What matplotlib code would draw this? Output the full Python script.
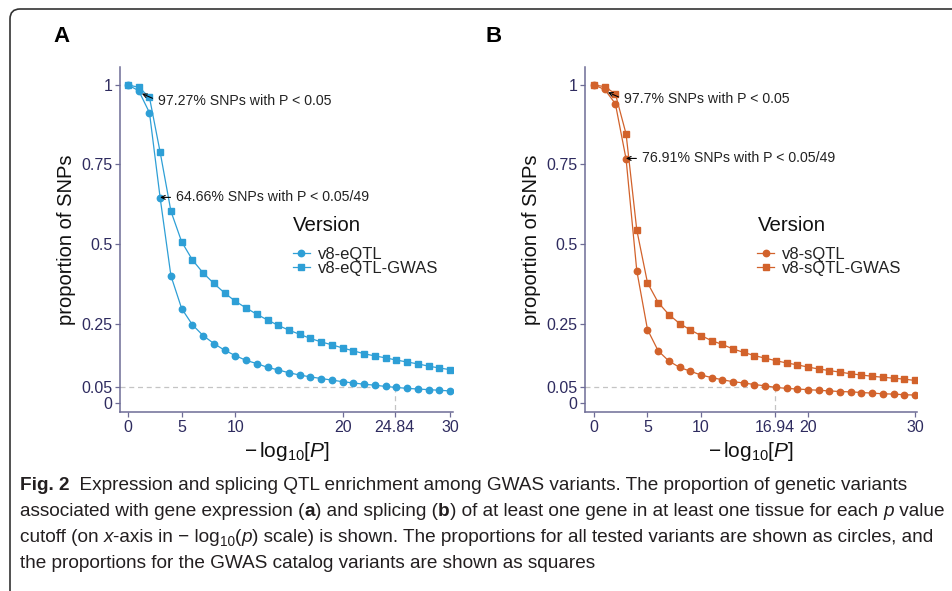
import matplotlib
matplotlib.use("Agg")
from matplotlib import pyplot as plt
from matplotlib.path import Path
from matplotlib.patches import PathPatch
from matplotlib.transforms import IdentityTransform
import numpy as np

# -log10(P) cutoffs
cutoffs = np.arange(0, 31)

# panel A: expression QTL
eqtl = [1.000, 0.982, 0.913, 0.644, 0.400, 0.297, 0.246, 0.212, 0.187, 0.166,
        0.149, 0.134, 0.124, 0.112, 0.104, 0.095, 0.088, 0.082, 0.077, 0.072,
        0.067, 0.063, 0.059, 0.056, 0.052, 0.049, 0.046, 0.044, 0.042, 0.040,
        0.038]
eqtl_gwas = [1.000, 0.993, 0.961, 0.788, 0.603, 0.507, 0.450, 0.409, 0.376, 0.346,
             0.320, 0.299, 0.279, 0.261, 0.244, 0.229, 0.216, 0.203, 0.192, 0.183,
             0.173, 0.164, 0.155, 0.148, 0.142, 0.135, 0.129, 0.123, 0.116, 0.110,
             0.105]

# panel B: splicing QTL
sqtl = [1.000, 0.986, 0.941, 0.767, 0.416, 0.231, 0.164, 0.132, 0.112, 0.100,
        0.088, 0.080, 0.073, 0.067, 0.063, 0.058, 0.054, 0.049, 0.046, 0.044,
        0.042, 0.040, 0.038, 0.036, 0.035, 0.033, 0.031, 0.029, 0.028, 0.026,
        0.025]
sqtl_gwas = [1.000, 0.995, 0.972, 0.846, 0.544, 0.378, 0.316, 0.278, 0.250, 0.230,
             0.212, 0.196, 0.184, 0.170, 0.159, 0.149, 0.141, 0.133, 0.126, 0.120,
             0.113, 0.107, 0.102, 0.097, 0.092, 0.088, 0.084, 0.081, 0.078, 0.075,
             0.071]

labels_a = ["v8-eQTL", "v8-eQTL-GWAS"]
labels_b = ["v8-sQTL", "v8-sQTL-GWAS"]

cut_a = 24.84
cut_b = 16.94
prop_line = 0.05

xticks_a = [0, 5, 10, 20, 24.84, 30]
xticks_b = [0, 5, 10, 16.94, 20, 30]
yticks = [0, 0.05, 0.25, 0.5, 0.75, 1]
ytick_labels = ["0", "0.05", "0.25", "0.5", "0.75", "1"]

notes_a = [("97.27% SNPs with P < 0.05", 1.301, 0.9727),
           ("64.66% SNPs with P < 0.05/49", 2.99, 0.6466)]
notes_b = [("97.7% SNPs with P < 0.05", 1.301, 0.977),
           ("76.91% SNPs with P < 0.05/49", 2.99, 0.7691)]

BLUE = "#2e9fd6"
ORANGE = "#d2622b"
SPINE = "#6e6c96"
TICKTXT = "#2e2b5f"

plt.rcParams["font.family"] = ["Liberation Sans", "DejaVu Sans"]
plt.rcParams["mathtext.fontset"] = "custom"
plt.rcParams["mathtext.rm"] = "Liberation Sans"
plt.rcParams["mathtext.it"] = "Liberation Sans:italic"

W, H = 953, 591
fig = plt.figure(figsize=(W / 100, H / 100), dpi=100)


def panel(rect, xlim, y1, y2, labels, color, xticks, cut, notes, letter, letter_x):
    ax = fig.add_axes(rect)
    # dashed guide lines at proportion 0.05
    ax.plot([xlim[0], cut], [prop_line, prop_line], ls=(0, (4, 3)), color="#c4c4c4", lw=0.9, zorder=1)
    ax.plot([cut, cut], [prop_line, -0.0283], ls=(0, (4, 3)), color="#c4c4c4", lw=0.9, zorder=1)
    ax.plot(cutoffs, y1, "-o", color=color, ms=4.6, lw=0.9, label=labels[0], zorder=3)
    ax.plot(cutoffs, y2, "-s", color=color, ms=4.3, lw=0.9, label=labels[1], zorder=3)
    ax.set_xlim(*xlim)
    ax.set_ylim(-0.0283, 1.0566)
    for s in ["top", "right"]:
        ax.spines[s].set_visible(False)
    for s in ["left", "bottom"]:
        ax.spines[s].set_color(SPINE)
        ax.spines[s].set_linewidth(1.1)
    ax.set_xticks(xticks)
    ax.set_xticklabels([("%g" % t) for t in xticks])
    ax.set_yticks(yticks)
    ax.set_yticklabels(ytick_labels)
    ax.tick_params(colors=SPINE, labelcolor=TICKTXT, labelsize=11.5, length=3.5, width=0.9, pad=2)
    ax.set_ylabel("proportion of SNPs", fontsize=14.5, labelpad=4, color="#111111")
    ax.set_xlabel(r"$-\,\mathrm{log}_{10}[P]$", fontsize=15, labelpad=4, color="#111111")
    for txt, xx, yy in notes:
        ax.annotate(txt, xy=(xx, yy), xytext=(11.5, -5 if yy > 0.95 else 0),
                    textcoords="offset points", ha="left", va="center", fontsize=10.2,
                    color="#222222",
                    arrowprops=dict(arrowstyle="->", color="black", lw=0.8,
                                    shrinkA=2, shrinkB=0, mutation_scale=7,
                                    relpos=(0, 0.5)))
    ax.text(0.52, 0.542, "Version", transform=ax.transAxes, fontsize=14.7,
            ha="left", va="center", color="#111111")
    leg = ax.legend(loc="upper left", bbox_to_anchor=(0.494, 0.502),
                    frameon=False, fontsize=12, borderpad=0,
                    handlelength=1.0, handletextpad=0.48, labelspacing=-0.05)
    for t in leg.get_texts():
        t.set_color("#222222")
    fig.text(letter_x / W, 1 - 37 / H, letter, fontsize=16, weight="bold",
             ha="center", va="center")
    return ax


panel([120 / W, 179 / H, 333 / W, 345 / H], (-0.745, 30.28), eqtl, eqtl_gwas,
      labels_a, BLUE, xticks_a, cut_a, notes_a, "A", 62)
panel([585 / W, 179 / H, 332 / W, 345 / H], (-0.84, 30.19), sqtl, sqtl_gwas,
      labels_b, ORANGE, xticks_b, cut_b, notes_b, "B", 494)

# rounded frame round the figure
r = 10
verts = [(10, -5), (10, H - 9 - r), (10, H - 9), (10 + r, H - 9), (W + 5, H - 9)]
codes = [Path.MOVETO, Path.LINETO, Path.CURVE3, Path.CURVE3, Path.LINETO]
fig.add_artist(PathPatch(Path(verts, codes), fill=False, edgecolor="#333333",
                         lw=1.2, transform=IdentityTransform()))

# caption
cap_font = ["Liberation Sans", "DejaVu Sans"]
caption = [
    [("Fig. 2", "b"), ("  Expression and splicing QTL enrichment among GWAS variants. The proportion of genetic variants", "n")],
    [("associated with gene expression (", "n"), ("a", "b"), (") and splicing (", "n"), ("b", "b"),
     (") of at least one gene in at least one tissue for each ", "n"), ("p", "i"), (" value", "n")],
    [("cutoff (on ", "n"), ("x", "i"), ("-axis in \u2212 log", "n"), ("10", "sub"), ("(", "n"), ("p", "i"),
     (") scale) is shown. The proportions for all tested variants are shown as circles, and", "n")],
    [("the proportions for the GWAS catalog variants are shown as squares", "n")],
]
baselines = [490, 516, 542, 568]


def draw_caption(size):
    renderer = fig.canvas.get_renderer()
    made = []
    ends = []
    for line, base in zip(caption, baselines):
        x = 20.0
        for s, style in line:
            kw = dict(fontsize=size, family=cap_font, color="#231f20",
                      va="baseline", ha="left")
            y = H - base
            if style == "b":
                kw["weight"] = "bold"
            if style == "i":
                kw["style"] = "italic"
            if style == "sub":
                kw["fontsize"] = size * 0.72
                y -= size * 0.3
            t = fig.text(x / W, y / H, s, **kw)
            made.append(t)
            x += t.get_window_extent(renderer).width
        ends.append(x)
    return made, ends


made, ends = draw_caption(13)
scale = (946 - 20) / (ends[1] - 20)
for t in made:
    t.remove()
draw_caption(13 * scale)

fig.savefig("out.png", dpi=100)
plt.close()
